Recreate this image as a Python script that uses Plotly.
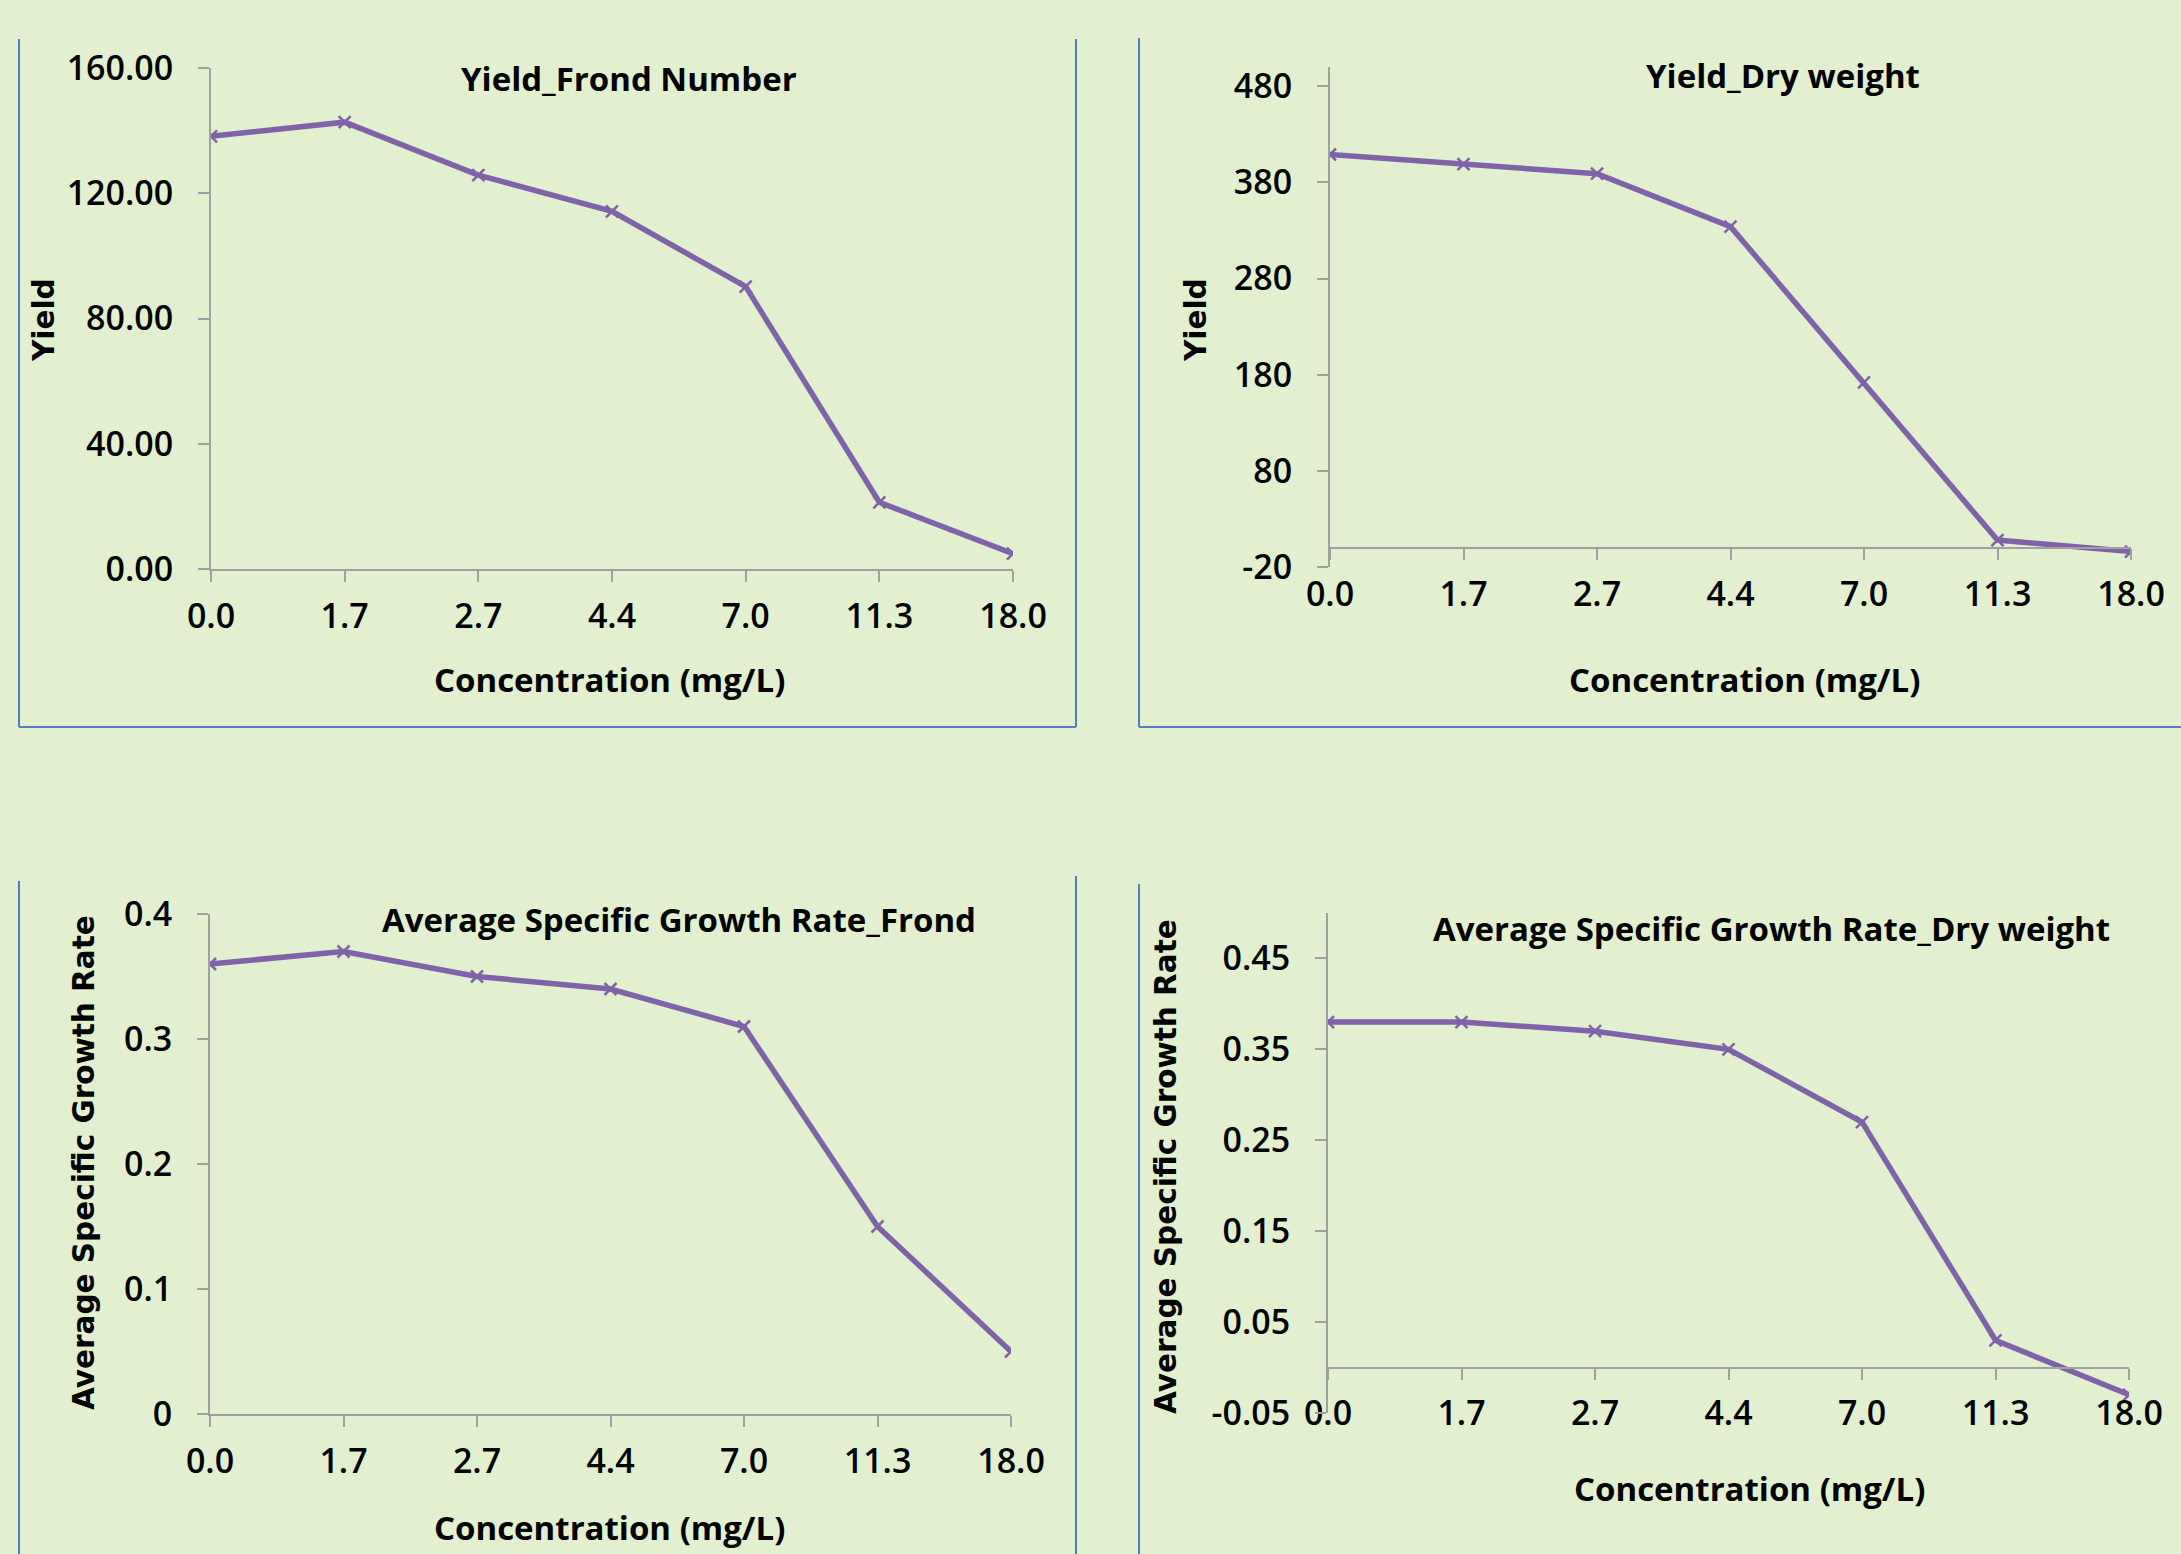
import plotly.graph_objects as go

# ---------------- data ----------------
concentrations = ["0.0", "1.7", "2.7", "4.4", "7.0", "11.3", "18.0"]
yield_frond = [138.2, 142.7, 125.8, 114.2, 90.2, 21.3, 4.9]
yield_dry = [409, 399, 389, 334, 172, 8, -4]
asgr_frond = [0.36, 0.37, 0.35, 0.34, 0.31, 0.15, 0.05]
asgr_dry = [0.38, 0.38, 0.37, 0.35, 0.27, 0.03, -0.03]

ytick_vals_frond = [0, 40, 80, 120, 160]
ytick_text_frond = ["0.00", "40.00", "80.00", "120.00", "160.00"]
ytick_vals_dry = [-20, 80, 180, 280, 380, 480]
ytick_text_dry = ["-20", "80", "180", "280", "380", "480"]
ytick_vals_asgr_frond = [0, 0.1, 0.2, 0.3, 0.4]
ytick_text_asgr_frond = ["0", "0.1", "0.2", "0.3", "0.4"]
ytick_vals_asgr_dry = [-0.05, 0.05, 0.15, 0.25, 0.35, 0.45]
ytick_text_asgr_dry = ["-0.05", "0.05", "0.15", "0.25", "0.35", "0.45"]

titles = ["Yield_Frond Number", "Yield_Dry weight",
          "Average Specific Growth Rate_Frond", "Average Specific Growth Rate_Dry weight"]
y_titles = ["Yield", "Yield", "Average Specific Growth Rate", "Average Specific Growth Rate"]
x_title = "Concentration (mg/L)"

# ---------------- layout constants ----------------
W, H = 2181, 1554
BG = "#E3F0CF"
PURPLE = "#7F63A8"
AXIS = "#A0A0A0"
BORDER = "#4F7FC0"
TICK_FONT = dict(family="Open Sans", size=34, color="black", weight=600)
TITLE_FONT = dict(family="Open Sans", size=33, color="black", weight="bold")
YT_FONT = dict(family="DejaVu Sans", size=29.5, color="black", weight="bold")

def px_x(p):
    return p / W

def px_y(p):
    return 1 - p / H

# plot areas in pixels: (left, right, top, bottom)
areas = [(211, 1013, 68, 569), (1330, 2131, 67, 567),
         (210, 1011, 914, 1414), (1328, 2129, 913, 1413)]
yranges = [[0, 160], [-20, 500], [0, 0.4], [-0.05, 0.5]]
ytickvals = [ytick_vals_frond, ytick_vals_dry, ytick_vals_asgr_frond, ytick_vals_asgr_dry]
yticktext = [ytick_text_frond, ytick_text_dry, ytick_text_asgr_frond, ytick_text_asgr_dry]
series = [yield_frond, yield_dry, asgr_frond, asgr_dry]

fig = go.Figure()

for i in range(4):
    n = i + 1
    fig.add_trace(go.Scatter(
        x=concentrations, y=series[i], mode="lines+markers",
        line=dict(color=PURPLE, width=5.5),
        marker=dict(symbol="x-thin", size=12, line=dict(color=PURPLE, width=2.5), color=PURPLE),
        xaxis=f"x{n}", yaxis=f"y{n}", showlegend=False,
    ))

for i in range(4):
    n = i + 1
    l, r, t, b = areas[i]
    xd = [px_x(l), px_x(r)]
    yd = [px_y(b), px_y(t)]
    y0, y1 = yranges[i]
    xa = dict(type="category", range=[0, len(concentrations) - 1], domain=xd,
              showline=True, linecolor=AXIS, linewidth=2,
              ticks="outside", ticklen=11, tickcolor=AXIS, tickwidth=2,
              showgrid=False, zeroline=False, tickfont=TICK_FONT,
              automargin=False, ticklabelstandoff=5)
    if y0 < 0:
        zero_pos = yd[0] + (0 - y0) / (y1 - y0) * (yd[1] - yd[0])
        xa.update(anchor="free", position=zero_pos)
    else:
        xa.update(anchor=f"y{n}")
    ya = dict(range=[y0, y1], domain=yd, anchor=f"x{n}",
              tickmode="array", tickvals=ytickvals[i], ticktext=yticktext[i],
              showline=True, linecolor=AXIS, linewidth=2,
              ticks="outside", ticklen=11, tickcolor=AXIS, tickwidth=2,
              showgrid=False, zeroline=False, tickfont=TICK_FONT,
              automargin=False, ticklabelstandoff=18)
    fig.update_layout({f"xaxis{n}": xa, f"yaxis{n}": ya})

# annotations: titles, axis titles
ann = []
title_pos = [(629, 78), (1783, 75), (679, 919), (1771, 928)]
xt_pos = [(609, 680), (1744, 679), (609, 1527), (1750, 1488)]
yt_pos = [(44, 320), (1196, 320), (84, 1163), (1166, 1166)]
for i in range(4):
    ann.append(dict(text=titles[i], x=px_x(title_pos[i][0]), y=px_y(title_pos[i][1]),
                    xref="paper", yref="paper", showarrow=False, font=TITLE_FONT,
                    xanchor="center", yanchor="middle"))
    ann.append(dict(text=x_title, x=px_x(xt_pos[i][0]), y=px_y(xt_pos[i][1]),
                    xref="paper", yref="paper", showarrow=False, font=TITLE_FONT,
                    xanchor="center", yanchor="middle"))
    ann.append(dict(text=y_titles[i], x=px_x(yt_pos[i][0]), y=px_y(yt_pos[i][1]),
                    xref="paper", yref="paper", showarrow=False, font=YT_FONT,
                    textangle=-90, xanchor="center", yanchor="middle"))

# chart-area borders (Excel chart frames)
shapes = []
def seg(x0, y0, x1, y1):
    shapes.append(dict(type="line", xref="paper", yref="paper",
                       x0=px_x(x0), y0=px_y(y0), x1=px_x(x1), y1=px_y(y1),
                       line=dict(color=BORDER, width=2)))
seg(19, 39, 19, 727); seg(19, 727, 1076, 727); seg(1076, 39, 1076, 727)
seg(1139, 38, 1139, 727); seg(1139, 727, 2181, 727)
seg(19, 881, 19, 1554); seg(1076, 876, 1076, 1554)
seg(1139, 884, 1139, 1554)

fig.update_layout(
    template="none",
    width=W, height=H, margin=dict(l=0, r=0, t=0, b=0),
    paper_bgcolor=BG, plot_bgcolor=BG,
    annotations=ann, shapes=shapes,
)

fig.write_html(
    "out.html",
    config={"displayModeBar": False},
    post_script="document.body.style.margin='0';document.body.style.background='%s';" % BG,
)
